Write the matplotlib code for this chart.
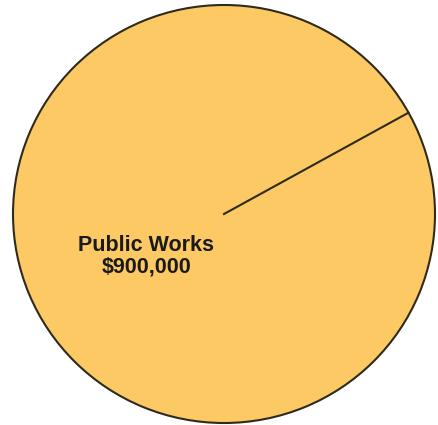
import matplotlib
matplotlib.use("Agg")
import matplotlib.pyplot as plt
import numpy as np

# Données
labels = ["Public Works"]
values = [900000]

fig = plt.figure(figsize=(4.38, 4.25), dpi=100)
# cercle centré vers (224, 215) px, rayon ~210 px
ax = fig.add_axes([13 / 438, 2 / 425, 422 / 438, 418 / 425])

wedges, texts = ax.pie(values, labels=[l + "\n\\$" + f"{v:,.0f}" for l, v in zip(labels, values)],
                       startangle=29, colors=["#FDC964"], labeldistance=0.42,
                       wedgeprops=dict(edgecolor="#2e2a1c", linewidth=1.5),
                       textprops=dict(fontsize=15.5, fontweight="bold", family="Liberation Sans",
                                      color="#1a1a1a", linespacing=1.05))
for t in texts:
    t.set_ha("center")
    t.set_va("center")

# trait radial du début de la part (non tracé par matplotlib pour un cercle complet)
for w in wedges:
    a = np.deg2rad(w.theta1)
    ax.plot([0, w.r * np.cos(a)], [0, w.r * np.sin(a)], color="#2e2a1c", lw=1.5)

ax.set_xlim(-1.0, 1.0)
ax.set_ylim(-1.0, 1.0)
ax.set_aspect("auto")
ax.axis("off")

fig.savefig("out.png", dpi=100)
